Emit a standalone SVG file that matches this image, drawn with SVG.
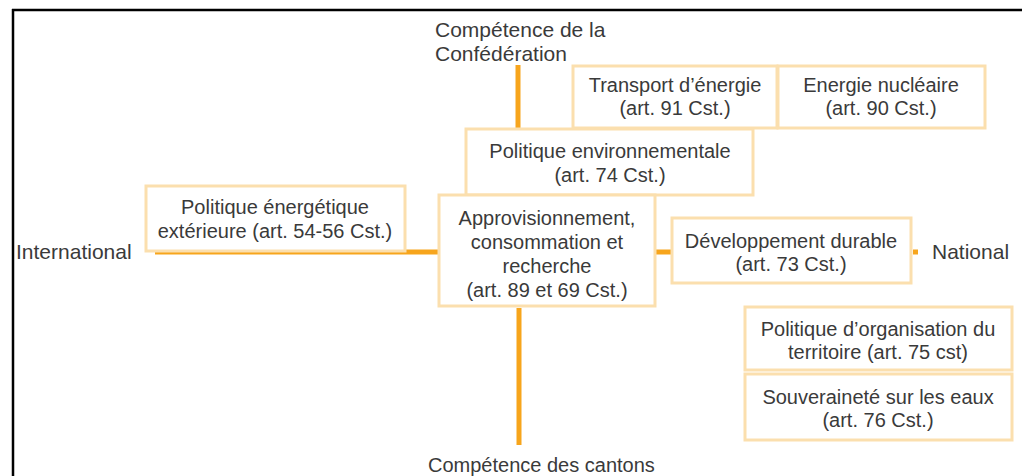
<svg xmlns="http://www.w3.org/2000/svg" width="1022" height="476" viewBox="0 0 1022 476">
<style>
.box{fill:#ffffff;stroke:#fbdfae;stroke-width:3}
.t{font-family:"Liberation Sans",Arial,sans-serif;font-size:20px;fill:#3a3a3a}
.big{font-size:21px}
.c{text-anchor:middle}
.ax{stroke:#f7a51c;stroke-width:5;fill:none}
</style>
<rect width="1022" height="476" fill="#ffffff"/>
<g id="frame">
<line x1="12" y1="10" x2="1022" y2="10" stroke="#000" stroke-width="2.5"/>
<line x1="13" y1="9" x2="13" y2="476" stroke="#000" stroke-width="2.5"/>
</g>
<g id="connectors">
<line class="ax" x1="518" y1="65" x2="518" y2="130"/>
<line class="ax" x1="519" y1="308" x2="519" y2="445"/>
<line class="ax" x1="155" y1="252" x2="440" y2="252" stroke-width="4"/>
<line class="ax" x1="655" y1="252" x2="671" y2="252" stroke-width="4"/>
<line class="ax" x1="913" y1="252" x2="918" y2="252" stroke-width="4"/>
</g>
<g id="axis-labels">
<text class="t big" x="435" y="37">Compétence de la</text>
<text class="t big" x="435" y="61">Confédération</text>
<text class="t big" x="16" y="259">International</text>
<text class="t big" x="932" y="259">National</text>
<text class="t" x="428" y="472">Compétence des cantons</text>
</g>
<g id="transport">
<rect class="box" x="573" y="66" width="204" height="62"/>
<text class="t c" x="675" y="92">Transport d’énergie</text>
<text class="t c" x="675" y="115">(art. 91 Cst.)</text>
</g>
<g id="nucleaire">
<rect class="box" x="778" y="66" width="207" height="62"/>
<text class="t c" x="881" y="92">Energie nucléaire</text>
<text class="t c" x="881" y="115">(art. 90 Cst.)</text>
</g>
<g id="environnement">
<rect class="box" x="466" y="129" width="287" height="66"/>
<text class="t c" x="610" y="158">Politique environnementale</text>
<text class="t c" x="610" y="182">(art. 74 Cst.)</text>
</g>
<g id="exterieure">
<rect class="box" x="146" y="186" width="259" height="65"/>
<text class="t c" x="275" y="214">Politique énergétique</text>
<text class="t c" x="275" y="238">extérieure (art. 54-56 Cst.)</text>
</g>
<g id="approvisionnement">
<rect class="box" x="439" y="195" width="216" height="111"/>
<text class="t c" x="547" y="225">Approvisionnement,</text>
<text class="t c" x="547" y="249">consommation et</text>
<text class="t c" x="547" y="273">recherche</text>
<text class="t c" x="547" y="297">(art. 89 et 69 Cst.)</text>
</g>
<g id="durable">
<rect class="box" x="672" y="218" width="239" height="65"/>
<text class="t c" x="791" y="248">Développement durable</text>
<text class="t c" x="791" y="271">(art. 73 Cst.)</text>
</g>
<g id="territoire">
<rect class="box" x="745" y="307" width="267" height="63"/>
<text class="t c" x="878" y="336">Politique d’organisation du</text>
<text class="t c" x="878" y="359">territoire (art. 75 cst)</text>
</g>
<g id="eaux">
<rect class="box" x="745" y="374" width="267" height="66"/>
<text class="t c" x="878" y="404">Souveraineté sur les eaux</text>
<text class="t c" x="878" y="427">(art. 76 Cst.)</text>
</g>
</svg>
